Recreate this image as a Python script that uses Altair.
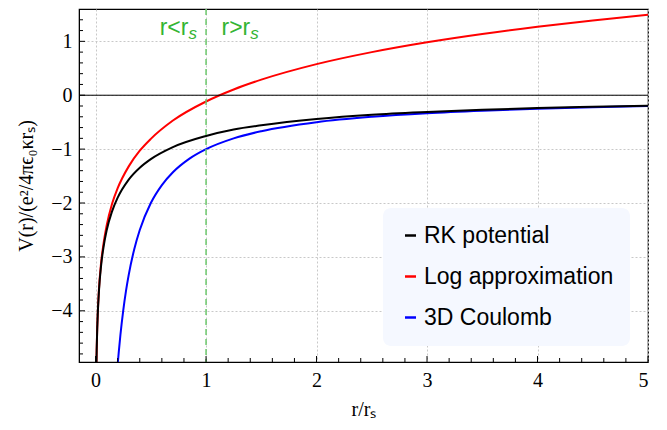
import altair as alt
import pandas as pd

# ---- data ----
r_rk = [0.007, 0.01, 0.015, 0.02, 0.03, 0.05, 0.075, 0.1, 0.15, 0.2, 0.3, 0.4, 0.5,
        0.7, 1.0, 1.25, 1.5, 2.0, 2.5, 3.0, 3.5, 4.0, 4.5, 5.0]
v_rk = [-5.09, -4.73, -4.33, -4.05, -3.65, -3.16, -2.78, -2.51, -2.15, -1.90, -1.565,
        -1.345, -1.185, -0.962, -0.755, -0.635, -0.557, -0.44, -0.361, -0.31, -0.27,
        -0.238, -0.215, -0.194]

r_log = [0.007, 0.01, 0.015, 0.02, 0.03, 0.05, 0.075, 0.1, 0.15, 0.2, 0.3, 0.4, 0.5,
         0.7, 1.0, 1.25, 1.5, 2.0, 2.5, 3.0, 3.5, 4.0, 4.5, 5.0]
v_log = [-5.08, -4.72, -4.32, -4.03, -3.62, -3.11, -2.71, -2.42, -2.01, -1.725, -1.32,
         -1.03, -0.81, -0.47, -0.116, 0.107, 0.289, 0.577, 0.80, 0.983, 1.137, 1.27,
         1.388, 1.493]

r_c = [0.2, 0.21, 0.225, 0.25, 0.275, 0.3, 0.35, 0.4, 0.5, 0.6, 0.7, 0.85, 1.0, 1.25,
       1.5, 2.0, 2.5, 3.0, 3.5, 4.0, 4.5, 5.0]
v_c = [-5.0, -4.762, -4.444, -4.0, -3.636, -3.333, -2.857, -2.5, -2.0, -1.667, -1.429,
       -1.176, -1.0, -0.8, -0.667, -0.5, -0.4, -0.333, -0.286, -0.25, -0.222, -0.2]

series_names = ["RK potential", "Log approximation", "3D Coulomb"]
series_colors = ["#000000", "#ff0000", "#0000ff"]

x_major = [0, 1, 2, 3, 4, 5]
x_minor = [0.2, 0.4, 0.6, 0.8, 1.2, 1.4, 1.6, 1.8, 2.2, 2.4, 2.6, 2.8, 3.2, 3.4, 3.6,
           3.8, 4.2, 4.4, 4.6, 4.8]
y_major = [-4, -3, -2, -1, 0, 1]
y_minor = [-4.8, -4.6, -4.4, -4.2, -3.8, -3.6, -3.4, -3.2, -2.8, -2.6, -2.4, -2.2,
           -1.8, -1.6, -1.4, -1.2, -0.8, -0.6, -0.4, -0.2, 0.2, 0.4, 0.6, 0.8, 1.2,
           1.4]
x_domain = [-0.15, 5.0]
y_domain = [-4.95, 1.6]

divider_x = [1.0]
zero_y = [0.0]
annot_main = ["r<r", "r>r"]
annot_sub = ["s", "s"]
annot_x = [0.84, 1.40]
annot_y = [1.25, 1.25]

# ---- build table ----
df = pd.concat([
    pd.DataFrame({"r": r_c, "v": v_c, "series": series_names[2], "k": 0}),
    pd.DataFrame({"r": r_log, "v": v_log, "series": series_names[1], "k": 1}),
    pd.DataFrame({"r": r_rk, "v": v_rk, "series": series_names[0], "k": 2}),
], ignore_index=True)

W, H = 569, 353
SERIF = "Liberation Serif"
SANS = "Liberation Sans"
GREEN = "#33b533"

xs = alt.Scale(domain=x_domain, nice=False, zero=False)
ys = alt.Scale(domain=y_domain, nice=False, zero=False)

xaxis = alt.Axis(
    values=x_major, title="r/rₛ", format="d", grid=True, gridDash=[2, 2],
    gridColor="#c8c8c8", tickSize=0, labelPadding=8, labelFont=SERIF,
    labelFontSize=20, labelColor="black", titleFont=SERIF, titleFontSize=20,
    titleFontWeight="normal", titleColor="black", titlePadding=9,
    domainColor="black")
yaxis = alt.Axis(
    values=y_major, title="V(r)/(e²/4πϵ₀κrₛ)", format="d", grid=True,
    gridDash=[2, 2], gridColor="#c8c8c8", tickSize=0, labelPadding=7,
    labelFont=SERIF, labelFontSize=20, labelColor="black", titleFont=SERIF,
    titleFontSize=20, titleFontWeight="normal", titleColor="black",
    titlePadding=14, domainColor="black")

X = lambda f: alt.X(f, scale=xs, axis=xaxis)
Y = lambda f: alt.Y(f, scale=ys, axis=yaxis)

lines = alt.Chart(df).mark_line(strokeWidth=2, clip=True, interpolate="monotone").encode(
    x=X("r:Q"),
    y=Y("v:Q"),
    color=alt.Color("series:N", sort=series_names,
                    scale=alt.Scale(domain=series_names, range=series_colors),
                    legend=alt.Legend(
                        title=None, orient="none", legendX=304, legendY=199,
                        fillColor="#f5f8ff", cornerRadius=8, padding=16,
                        symbolType="stroke", symbolStrokeWidth=2.5, symbolSize=121,
                        labelFont=SANS, labelFontSize=23, labelColor="black",
                        labelLimit=0, rowPadding=17, labelOffset=2)),
    order=alt.Order("k:Q"),
    detail="series:N",
)

zero_line = alt.Chart(pd.DataFrame({"v": zero_y})).mark_rule(
    color="black", strokeWidth=1).encode(y=Y("v:Q"))

divider = alt.Chart(pd.DataFrame({"r": divider_x})).mark_rule(
    color="#6cc86c", strokeWidth=1.5, strokeDash=[6, 4]).encode(x=X("r:Q"))

annot_df = pd.DataFrame({"r": annot_x, "v": annot_y, "t": annot_main, "s": annot_sub})
annot = alt.Chart(annot_df).mark_text(
    font=SANS, fontSize=23, color=GREEN, align="right", baseline="middle").encode(
    x=X("r:Q"), y=Y("v:Q"), text="t:N")
annot_s = alt.Chart(annot_df).mark_text(
    font=SANS, fontSize=17, fontStyle="italic", color=GREEN, align="left",
    baseline="middle", dx=0, dy=6).encode(
    x=X("r:Q"), y=Y("v:Q"), text="s:N")

def xticks(vals, length):
    return alt.Chart(pd.DataFrame({"r": vals})).mark_rule(
        color="black", strokeWidth=1).encode(
        x=X("r:Q"), y=alt.value(H), y2=alt.value(H - length))

def yticks(vals, length):
    return alt.Chart(pd.DataFrame({"v": vals})).mark_rule(
        color="black", strokeWidth=1).encode(
        y=Y("v:Q"), x=alt.value(0), x2=alt.value(length))

chart = alt.layer(
    lines, zero_line, divider, annot, annot_s,
    xticks(x_major, 6), xticks(x_minor, 4), yticks(y_major, 6), yticks(y_minor, 4),
).properties(
    width=W, height=H,
    autosize=alt.AutoSizeParams(type="none"),
    padding={"left": 71, "top": 1, "right": 11, "bottom": 60},
).configure_view(stroke="black", strokeWidth=1.2)

chart.save("out.html", embed_options={"renderer": "svg", "actions": False})
